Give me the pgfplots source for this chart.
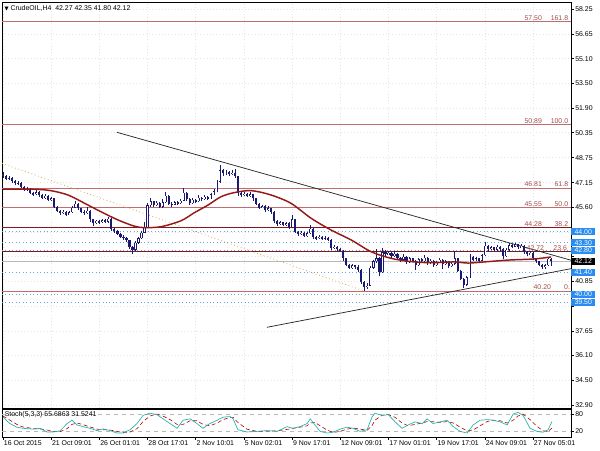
\documentclass[border=0pt]{standalone}
\usepackage{pgfplots}
\pgfplotsset{compat=1.18}
\usepackage{pgfplotstable}
\usepackage{fontspec}
\setmainfont{Liberation Sans}
\newfontfamily\symfont{DejaVu Sans}
\newcommand\lab{\fontsize{5.2}{6}\selectfont}
\definecolor{candle}{RGB}{25,25,112}
\definecolor{fibc}{RGB}{190,110,110}
\definecolor{fibd}{RGB}{130,25,25}
\definecolor{fibt}{RGB}{165,75,75}
\definecolor{mac}{RGB}{150,25,25}
\definecolor{hlb}{RGB}{110,165,225}
\definecolor{boxb}{RGB}{40,140,240}
\definecolor{stm}{RGB}{32,178,170}
\definecolor{fiboo}{RGB}{225,165,70}

\pgfplotstableread{
i o h l c
0 47.70 47.85 47.45 47.55
1 47.55 47.62 47.30 47.40
2 47.40 47.55 47.32 47.45
3 47.45 47.50 47.15 47.25
4 47.25 47.32 47.00 47.10
5 47.10 47.28 47.02 47.15
6 47.15 47.20 46.82 46.90
7 46.90 46.95 46.60 46.70
8 46.70 46.85 46.62 46.75
9 46.75 46.80 46.40 46.50
10 46.50 46.58 46.30 46.40
11 46.40 46.65 46.35 46.55
12 46.55 46.60 46.25 46.35
13 46.35 46.42 46.10 46.20
14 46.20 46.40 46.12 46.30
15 46.30 46.35 45.95 46.05
16 46.05 46.25 45.98 46.15
17 46.15 46.20 45.50 45.60
18 45.60 45.65 45.25 45.35
19 45.35 45.42 45.10 45.20
20 45.20 45.40 45.12 45.30
21 45.30 45.35 45.00 45.10
22 45.10 45.35 45.05 45.25
23 45.25 45.65 45.20 45.55
24 45.55 46.00 45.50 45.80
25 45.80 45.85 45.40 45.50
26 45.50 45.55 45.20 45.30
27 45.30 45.38 45.08 45.20
28 45.20 45.60 45.15 45.35
29 45.35 45.40 44.65 44.80
30 44.80 44.85 44.40 44.55
31 44.55 44.78 44.50 44.70
32 44.70 44.75 44.50 44.60
33 44.60 44.82 44.55 44.75
34 44.75 44.80 44.58 44.65
35 44.65 44.95 44.55 44.85
36 44.85 44.88 44.05 44.20
37 44.20 44.25 43.95 44.05
38 44.05 44.10 43.78 43.85
39 43.85 43.90 43.60 43.70
40 43.70 43.78 43.50 43.60
41 43.60 43.65 43.35 43.45
42 43.45 43.50 42.90 43.00
43 43.00 43.08 42.60 42.85
44 42.85 43.40 42.80 43.30
45 43.30 43.70 43.25 43.60
46 43.60 44.05 43.55 43.95
47 43.95 44.60 43.90 44.30
48 44.30 45.85 44.25 45.70
49 45.70 46.15 45.60 45.95
50 45.95 46.00 45.62 45.75
51 45.75 45.95 45.65 45.85
52 45.85 45.90 45.50 45.60
53 45.60 46.10 45.55 45.90
54 45.90 46.55 45.85 46.30
55 46.30 46.35 45.70 45.80
56 45.80 45.90 45.62 45.75
57 45.75 46.00 45.70 45.90
58 45.90 45.98 45.72 45.85
59 45.85 46.10 45.80 46.00
60 46.00 46.80 45.95 46.50
61 46.50 46.55 46.00 46.10
62 46.10 46.15 45.75 45.85
63 45.85 46.15 45.80 46.05
64 46.05 46.10 45.85 45.95
65 45.95 46.35 45.90 46.20
66 46.20 46.25 46.00 46.10
67 46.10 46.35 46.05 46.25
68 46.25 46.30 46.05 46.15
69 46.15 46.50 46.10 46.40
70 46.40 46.75 46.35 46.60
71 46.60 47.35 46.55 47.20
72 47.20 48.30 47.10 47.95
73 47.95 48.05 47.60 47.75
74 47.75 47.95 47.65 47.85
75 47.85 47.90 47.60 47.70
76 47.70 47.95 47.62 47.80
77 47.80 48.00 47.45 47.55
78 47.55 47.60 46.30 46.50
79 46.50 46.60 46.25 46.35
80 46.35 46.55 46.30 46.45
81 46.45 46.50 46.22 46.30
82 46.30 46.55 46.25 46.40
83 46.40 46.45 45.95 46.15
84 46.15 46.20 45.70 45.80
85 45.80 45.85 45.45 45.55
86 45.55 45.75 45.50 45.65
87 45.65 45.70 45.30 45.40
88 45.40 45.65 45.35 45.50
89 45.50 45.55 45.15 45.30
90 45.30 45.35 44.55 44.70
91 44.70 44.75 44.40 44.50
92 44.50 44.70 44.45 44.60
93 44.60 44.65 44.35 44.45
94 44.45 44.62 44.38 44.55
95 44.55 44.60 44.15 44.30
96 44.30 45.05 44.25 44.80
97 44.80 44.85 43.90 44.00
98 44.00 44.05 43.75 43.85
99 43.85 44.05 43.80 43.95
100 43.95 44.00 43.65 43.75
101 43.75 44.00 43.70 43.90
102 43.90 44.45 43.85 44.20
103 44.20 44.25 43.55 43.65
104 43.65 43.72 43.50 43.60
105 43.60 43.80 43.55 43.70
106 43.70 43.75 43.48 43.55
107 43.55 43.72 43.50 43.60
108 43.60 43.65 43.40 43.50
109 43.50 43.55 42.85 42.95
110 42.95 43.15 42.88 43.05
111 43.05 43.10 42.80 42.90
112 42.90 42.98 42.70 42.80
113 42.80 42.85 42.15 42.30
114 42.30 42.35 41.80 41.90
115 41.90 41.95 41.60 41.70
116 41.70 41.95 41.62 41.85
117 41.85 41.90 41.65 41.75
118 41.75 41.85 41.45 41.55
119 41.55 41.60 40.65 40.80
120 40.80 40.85 40.20 40.45
121 40.45 40.70 40.35 40.55
122 40.55 41.80 40.50 41.70
123 41.70 42.20 41.60 42.10
124 42.10 42.90 42.00 42.30
125 42.30 42.40 41.20 41.40
126 41.40 42.95 41.35 42.70
127 42.70 42.85 42.45 42.55
128 42.55 42.80 42.50 42.65
129 42.65 42.70 42.35 42.45
130 42.45 42.75 42.40 42.60
131 42.60 42.65 42.25 42.35
132 42.35 42.40 42.05 42.20
133 42.20 42.55 42.15 42.40
134 42.40 42.45 41.95 42.05
135 42.05 42.40 42.00 42.30
136 42.30 42.35 42.05 42.15
137 42.15 42.20 41.55 41.85
138 41.85 42.35 41.80 42.25
139 42.25 42.30 42.00 42.10
140 42.10 42.50 42.05 42.35
141 42.35 42.40 41.90 42.00
142 42.00 42.25 41.95 42.15
143 42.15 42.20 41.75 41.85
144 41.85 42.15 41.80 42.05
145 42.05 42.30 42.00 42.20
146 42.20 42.25 41.60 41.95
147 41.95 42.20 41.90 42.10
148 42.10 42.15 41.70 41.80
149 41.80 42.05 41.75 41.95
150 41.95 42.75 41.90 42.30
151 42.30 42.35 41.40 41.50
152 41.50 41.55 40.90 41.00
153 41.00 41.05 40.40 40.60
154 40.60 41.20 40.55 41.10
155 41.10 42.55 41.05 42.40
156 42.40 42.45 42.10 42.20
157 42.20 42.40 42.15 42.30
158 42.30 42.35 42.05 42.15
159 42.15 42.60 42.10 42.50
160 42.50 43.35 42.45 43.10
161 43.10 43.15 42.80 42.90
162 42.90 43.10 42.85 43.00
163 43.00 43.05 42.75 42.85
164 42.85 43.15 42.80 43.05
165 43.05 43.10 42.80 42.90
166 42.90 42.95 42.25 42.45
167 42.45 42.95 42.40 42.85
168 42.85 43.30 42.80 43.15
169 43.15 43.20 42.95 43.05
170 43.05 43.30 43.00 43.20
171 43.20 43.25 42.90 43.00
172 43.00 43.20 42.95 43.10
173 43.10 43.15 42.60 42.70
174 42.70 42.75 42.45 42.55
175 42.55 42.75 42.50 42.65
176 42.65 42.70 42.20 42.30
177 42.30 42.35 42.00 42.10
178 42.10 42.15 41.80 41.90
179 41.90 41.95 41.62 41.75
180 41.75 41.95 41.60 41.85
181 41.85 42.35 41.80 42.27
182 42.27 42.35 41.80 42.12
}\candles

\pgfplotsset{candlebar/.style={draw=none, mark=none, forget plot,
  error bars/y dir=both, error bars/y explicit, error bars/error mark=none}}

\begin{document}
\begin{tikzpicture}
\path[use as bounding box] (0,0) rectangle (450pt,337.5pt);
% ---------------- main price panel ----------------
\begin{axis}[
  at={(1.5pt,31.5pt)}, anchor=south west,
  scale only axis, width=426.75pt, height=304.5pt,
  xmin=-0.33, xmax=188.6, ymin=32.71, ymax=58.73,
  clip=false,
  axis line style={black, line width=0.6pt},
  xtick={0,16,...,176}, xticklabels={}, xtick style={draw=none},
  ytick={58.25,56.65,55.10,53.50,51.90,50.35,48.75,47.15,45.60,44.00,42.45,40.85,39.25,37.65,36.10,34.50,32.90},
  yticklabels={58.25,56.65,55.10,53.50,51.90,50.35,48.75,47.15,45.60,,,40.85,,37.65,36.10,34.50,32.90},
  ytick pos=right, yticklabel pos=right, tick align=outside,
  major tick length=2pt, ytick style={black, line width=0.4pt},
  yticklabel style={font=\lab, inner sep=1pt},
  grid=major, major grid style={draw=gray!20, dotted, line width=0.4pt},
]
% fibonacci levels
\addplot[fibc, line width=0.5pt] coordinates {(-0.33,57.50) (188.6,57.50)};
\addplot[fibc, line width=0.5pt] coordinates {(-0.33,50.89) (188.6,50.89)};
\addplot[fibc, line width=0.5pt] coordinates {(-0.33,46.81) (188.6,46.81)};
\addplot[fibc, line width=0.5pt] coordinates {(-0.33,45.55) (188.6,45.55)};
\addplot[fibd, line width=0.7pt] coordinates {(-0.33,44.28) (188.6,44.28)};
\addplot[fibd, line width=0.7pt] coordinates {(-0.33,42.72) (188.6,42.72)};
\addplot[fibc, line width=0.5pt] coordinates {(-0.33,40.20) (188.6,40.20)};
% blue horizontal levels
\addplot[hlb, dotted, line width=0.6pt] coordinates {(-0.33,44.00) (188.6,44.00)};
\addplot[hlb, dotted, line width=0.6pt] coordinates {(-0.33,43.30) (188.6,43.30)};
\addplot[hlb, dotted, line width=0.6pt] coordinates {(-0.33,42.80) (188.6,42.80)};
\addplot[hlb, dotted, line width=0.6pt] coordinates {(-0.33,41.40) (188.6,41.40)};
\addplot[hlb, dotted, line width=0.6pt] coordinates {(-0.33,40.00) (188.6,40.00)};
\addplot[hlb, dotted, line width=0.6pt] coordinates {(-0.33,39.50) (188.6,39.50)};
% bid line
\addplot[gray!55, line width=0.5pt] coordinates {(-0.33,42.12) (188.6,42.12)};
% fibo diagonal
\addplot[fiboo, dotted, line width=0.6pt] coordinates {(-0.33,48.39) (120,40.20)};
% trend lines
\addplot[black!85, line width=0.55pt] coordinates {(37.8,50.38) (188.6,42.18)};
\addplot[black!85, line width=0.55pt] coordinates {(87.6,37.88) (188.6,41.64)};
% candle wicks
\addplot[candlebar, error bars/error bar style={draw=candle, line width=0.45pt}]
  table[x=i, y expr={(\thisrow{h}+\thisrow{l})/2}, y error expr={(\thisrow{h}-\thisrow{l})/2}] {\candles};
% bear bodies
\addplot[candlebar, restrict expr to domain={\thisrow{o}-\thisrow{c}}{0.0001:100},
  error bars/error bar style={draw=candle, line width=1.6pt}]
  table[x=i, y expr={(\thisrow{o}+\thisrow{c})/2}, y error expr={max(abs(\thisrow{o}-\thisrow{c})/2,0.02)}] {\candles};
% bull bodies (hollow)
\addplot[candlebar, restrict expr to domain={\thisrow{c}-\thisrow{o}}{0:100},
  error bars/error bar style={draw=candle, line width=1.6pt}]
  table[x=i, y expr={(\thisrow{o}+\thisrow{c})/2}, y error expr={max(abs(\thisrow{o}-\thisrow{c})/2,0.02)}] {\candles};
\addplot[candlebar, restrict expr to domain={\thisrow{c}-\thisrow{o}}{0:100},
  error bars/error bar style={draw=white, line width=0.55pt}]
  table[x=i, y expr={(\thisrow{o}+\thisrow{c})/2}, y error expr={max(abs(\thisrow{o}-\thisrow{c})/2-0.03,0)}] {\candles};
% moving average
\addplot[mac, line width=1.1pt, smooth, tension=0.5] coordinates {
(0,46.73) (10.3,46.73) (15.9,46.64) (21.6,46.36) (26.9,45.85) (32.5,45.29) (38.2,44.76) (43.5,44.37) (46.8,44.27) (52.5,44.33) (59.1,44.71) (63.4,45.21) (68.1,45.72) (72.4,46.25) (76.7,46.51) (82.4,46.64) (89,46.36) (95.6,45.83) (102.3,44.87) (108.9,44.12) (115.6,43.48) (122.2,42.73) (128.9,42.30) (135.5,42.09) (142.1,42.02) (149.8,42.07) (154.4,42.00) (159.7,42.07) (167.7,42.19) (176.3,42.26) (182,42.39)};
% fib labels
\node[anchor=south east, text=fibt, font=\lab, inner sep=0.6pt] at (axis cs:179.3,57.50) {57.50};
\node[anchor=south east, text=fibt, font=\lab, inner sep=0.6pt] at (axis cs:188.0,57.50) {161.8};
\node[anchor=south east, text=fibt, font=\lab, inner sep=0.6pt] at (axis cs:179.3,50.89) {50.89};
\node[anchor=south east, text=fibt, font=\lab, inner sep=0.6pt] at (axis cs:188.0,50.89) {100.0};
\node[anchor=south east, text=fibt, font=\lab, inner sep=0.6pt] at (axis cs:179.3,46.81) {46.81};
\node[anchor=south east, text=fibt, font=\lab, inner sep=0.6pt] at (axis cs:188.0,46.81) {61.8};
\node[anchor=south east, text=fibt, font=\lab, inner sep=0.6pt] at (axis cs:179.3,45.55) {45.55};
\node[anchor=south east, text=fibt, font=\lab, inner sep=0.6pt] at (axis cs:188.0,45.55) {50.0};
\node[anchor=south east, text=fibt, font=\lab, inner sep=0.6pt] at (axis cs:179.3,44.28) {44.28};
\node[anchor=south east, text=fibt, font=\lab, inner sep=0.6pt] at (axis cs:188.0,44.28) {38.2};
\node[anchor=south east, text=fibt, font=\lab, inner sep=0.6pt] at (axis cs:180.0,42.72) {42.72};
\node[anchor=south east, text=fibt, font=\lab, inner sep=0.6pt] at (axis cs:187.6,42.72) {23.6};
\node[anchor=south east, text=fibt, font=\lab, inner sep=0.6pt] at (axis cs:182.3,40.20) {40.20};
\node[anchor=south west, text=fibt, font=\lab, inner sep=0.6pt] at (axis cs:186.0,40.20) {0.};
% price boxes on the right scale
\node[anchor=west, fill=boxb, text=white, font=\lab, inner sep=0.5pt, minimum width=18pt, minimum height=5.2pt] at (axis cs:188.6,44.00) {44.00};
\node[anchor=west, fill=boxb, text=white, font=\lab, inner sep=0.5pt, minimum width=18pt, minimum height=5.2pt] at (axis cs:188.6,43.30) {43.30};
\node[anchor=west, fill=boxb, text=white, font=\lab, inner sep=0.5pt, minimum width=18pt, minimum height=5.2pt] at (axis cs:188.6,42.80) {42.80};
\node[anchor=west, fill=black, text=white, font=\lab, inner sep=0.5pt, minimum width=18pt, minimum height=5.2pt] at (axis cs:188.6,42.12) {42.12};
\node[anchor=west, fill=boxb, text=white, font=\lab, inner sep=0.5pt, minimum width=18pt, minimum height=5.2pt] at (axis cs:188.6,41.40) {41.40};
\node[anchor=west, fill=boxb, text=white, font=\lab, inner sep=0.5pt, minimum width=18pt, minimum height=5.2pt] at (axis cs:188.6,40.00) {40.00};
\node[anchor=west, fill=boxb, text=white, font=\lab, inner sep=0.5pt, minimum width=18pt, minimum height=5.2pt] at (axis cs:188.6,39.50) {39.50};
% title
\node[anchor=west, font=\lab, inner sep=0pt] at (rel axis cs:0.004,0.985) {{\symfont\fontsize{4}{5}\selectfont ▼}\ CrudeOIL,H4\ \ 42.27 42.35 41.80 42.12};
\end{axis}
% ---------------- stochastic panel ----------------
\begin{axis}[
  at={(1.5pt,9.75pt)}, anchor=south west,
  scale only axis, width=426.75pt, height=21pt,
  xmin=-0.33, xmax=188.6, ymin=0, ymax=100,
  clip=false,
  axis line style={black, line width=0.6pt},
  xtick={0,16,...,176},
  xticklabels={16 Oct 2015,21 Oct 09:01,26 Oct 01:01,28 Oct 17:01,2 Nov 10:01,5 Nov 02:01,9 Nov 17:01,12 Nov 09:01,17 Nov 01:01,19 Nov 17:01,24 Nov 09:01,27 Nov 05:01},
  xticklabel style={font=\lab, anchor=north west, inner sep=0.5pt},
  xtick pos=bottom, ytick pos=right, tick align=outside, major tick length=2pt,
  tick style={black, line width=0.4pt},
  ytick={20,80}, yticklabels={20,80}, yticklabel pos=right,
  yticklabel style={font=\lab, inner sep=1pt},
]
\addplot[gray!55, dashed, line width=0.4pt] coordinates {(-0.33,20) (188.6,20)};
\addplot[gray!55, dashed, line width=0.4pt] coordinates {(-0.33,80) (188.6,80)};
\addplot[red!70!black, densely dashed, line width=0.45pt] coordinates {
(0,75) (2.3,60) (4.6,45) (6.6,36) (10,30) (12.3,29) (14.6,25) (16.6,20) (18.9,19) (21.3,30) (22.9,45) (24.6,50) (26.6,44) (28.9,36) (31.2,28) (33.2,26) (35.5,25) (37.9,20) (39.9,16) (42.2,18) (44.5,30) (46.5,55) (48.8,75) (51.1,82) (53.1,75) (55.5,62) (57.8,45) (59.8,45) (62.1,58) (64.4,58) (66.4,45) (68.7,40) (71.1,50) (73.1,62) (75.4,70) (76.4,70) (78,52) (81,28) (84.4,20) (87.7,21) (91,22) (94.3,27) (96.3,31) (98.6,35) (101,40) (102,50) (103.6,52) (105.3,40) (107.6,25) (109.6,16) (111.9,20) (114.2,28) (116.2,32) (118.6,28) (120.9,24) (122.5,40) (123.5,60) (125.9,78) (127.9,80) (130.2,70) (132.5,50) (134.5,40) (136.8,45) (139.2,50) (140.8,55) (142.8,55) (145.1,52) (147.5,55) (149.5,50) (151.8,35) (154.1,22) (156.1,25) (158.4,40) (160.7,55) (162.7,60) (165.1,58) (167.4,50) (169.4,60) (171,75) (172.7,82) (175,62) (177.3,38) (179.3,22) (181,20) (182.3,31.5)};
\addplot[stm, line width=0.5pt] coordinates {
(0,71) (2.3,48) (4.6,35) (6.6,31) (10,28) (12.3,31) (14.6,18) (16.6,18) (18.9,22) (21.3,48) (22.9,60) (24.6,43) (26.6,37) (28.9,31) (31.2,23) (33.2,29) (35.5,23) (37.9,14) (39.9,14) (42.2,26) (44.5,48) (46.5,77) (48.8,85) (51.1,80) (53.1,65) (55.5,48) (57.8,31) (59.8,60) (62.1,65) (64.4,48) (66.4,31) (68.7,48) (71.1,60) (73.1,71) (75.4,73) (76.4,65) (78,26) (81,18) (84.4,20) (87.7,23) (91,20) (94.3,37) (96.3,31) (98.6,37) (101,48) (102,65) (103.6,43) (105.3,20) (107.6,14) (109.6,17) (111.9,28) (114.2,35) (116.2,31) (118.6,20) (120.9,26) (122.5,71) (123.5,85) (125.9,77) (127.9,80) (130.2,54) (132.5,31) (134.5,43) (136.8,54) (139.2,48) (140.8,65) (142.8,48) (145.1,54) (147.5,60) (149.5,37) (151.8,20) (154.1,14) (156.1,43) (158.4,60) (160.7,62) (162.7,60) (165.1,54) (167.4,43) (169.4,82) (171,88) (172.7,77) (175,31) (177.3,20) (179.3,17) (181,26) (182.3,55.7)};
\node[anchor=west, font=\lab, inner sep=0pt] at (axis cs:0.5,80) {Stoch(5,3,3) 55.6863 31.5241};
\end{axis}
\end{tikzpicture}
\end{document}
